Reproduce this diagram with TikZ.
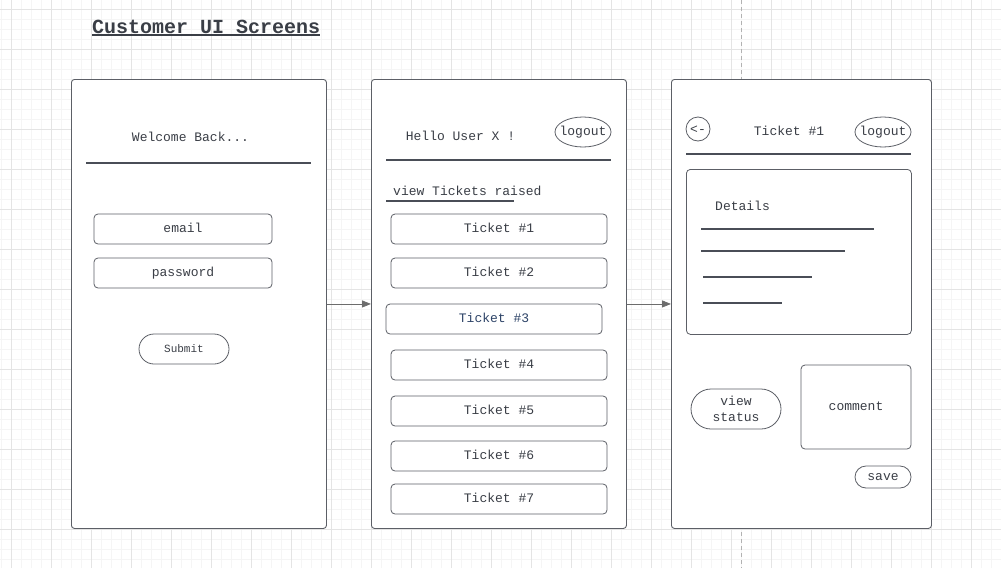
\documentclass[tikz,border=0pt]{standalone}
\usepackage{fontspec}
\setmainfont{Liberation Mono}
\usetikzlibrary{arrows.meta,shapes.geometric}

\definecolor{inkgray}{HTML}{4A4E57}
\definecolor{framegray}{HTML}{5C5F66}
\definecolor{textgray}{HTML}{3A3E46}
\definecolor{ticketblue}{HTML}{2E4468}
\definecolor{gridmajor}{HTML}{E4E4E4}
\definecolor{gridminor}{HTML}{F5F5F5}

\tikzset{
  mono/.style={font=\fontsize{13}{16}\selectfont, text=textgray},
  screen/.style={draw=framegray, fill=white, rounded corners=3pt, line width=0.9pt,
    minimum width=255pt, minimum height=449pt, inner sep=0pt, anchor=north west},
  field/.style={mono, draw=framegray, rounded corners=4pt, line width=0.8pt,
    minimum width=178pt, minimum height=30pt, inner sep=0pt, text height=9pt, text depth=2pt},
  ticket/.style={field, minimum width=216pt},
  pill/.style={mono, draw=framegray, line width=0.8pt, rounded corners=15pt,
    minimum width=90pt, minimum height=30pt, inner sep=0pt},
  oval/.style={mono, ellipse, draw=framegray, line width=0.8pt,
    minimum width=56pt, minimum height=30pt, inner xsep=-3.7pt, inner ysep=0pt},
  screentext/.style={mono, inner sep=0pt, text height=9pt, text depth=2pt},
  headrule/.style={draw=inkgray, line width=2pt},
  flow/.style={draw=gray!85!black, line width=0.8pt, -{Triangle[length=9pt,width=7pt]}},
}

\begin{document}
\begin{tikzpicture}[x=1pt, y=-1pt]
  \useasboundingbox (0,0) rectangle (1001,568);
  % background grid
  \foreach \gx in {1.7,11.7,...,1001} \draw[gridminor, line width=0.6pt] (\gx,0) -- (\gx,568);
  \foreach \gy in {-0.7,9.3,...,568} \draw[gridminor, line width=0.6pt] (0,\gy) -- (1001,\gy);
  \foreach \gx in {11.7,51.7,...,1001} \draw[gridmajor, line width=0.8pt] (\gx,0) -- (\gx,568);
  \foreach \gy in {9.3,49.3,...,568} \draw[gridmajor, line width=0.8pt] (0,\gy) -- (1001,\gy);
  \draw[draw=gray!60, line width=0.8pt, dash pattern=on 4pt off 3pt] (741.7,0) -- (741.7,568);

  % title
  \node[anchor=base west, inner sep=0pt, font=\fontsize{20}{24}\selectfont\bfseries, text=textgray]
    (title) at (92,33) {Customer UI Screens};
  \draw[draw=textgray, line width=2pt] ([yshift=-1.5pt]title.base west) -- ([yshift=-1.5pt]title.base east);

  % screens
  \node[screen] (login) at (71,79) {};
  \node[screen] (home) at (371,79) {};
  \node[screen, minimum width=260pt] (detail) at (671,79) {};

  % login screen
  \node[screentext] (welcome) at (190.5,138) {Welcome Back...};
  \draw[headrule] (86,163) -- (311,163);
  \node[field] (email) at (183,229) {email};
  \node[field] (password) at (183,273) {password};
  \node[pill, font=\fontsize{11}{13}\selectfont] (submit) at (184,349) {Submit};

  % home screen
  \node[screentext] (hello) at (460.5,137) {Hello User X !};
  \node[oval] (logoutA) at (583,132) {logout};
  \draw[headrule] (386,160) -- (611,160);
  \node[screentext, anchor=west] (raised) at (393,192) {view Tickets raised};
  \draw[headrule] (386,201) -- (514,201);
  \foreach \tn/\tx/\ty/\tc in {1/499/229/textgray, 2/499/273/textgray, 3/494/319/ticketblue,
      4/499/365/textgray, 5/499/411/textgray, 6/499/456/textgray, 7/499/499/textgray}
    \node[ticket, text=\tc] (ticket\tn) at (\tx,\ty) {Ticket \#\tn};

  % ticket screen
  \node[screentext, circle, draw=framegray, line width=0.8pt, minimum size=24pt, text height=8pt, text depth=0pt] (back) at (698,129) {<-};
  \node[screentext] (ticketname) at (789,132) {Ticket \#1};
  \node[oval] (logoutB) at (883,132) {logout};
  \draw[headrule] (686,154) -- (911,154);
  \node[field, minimum width=225pt, minimum height=165pt, anchor=north west] (details) at (686,169) {};
  \node[screentext] (detailslabel) at (742.5,207) {Details};
  \draw[headrule] (701,229) -- (874,229);
  \draw[headrule] (701,251) -- (845,251);
  \draw[headrule] (703,277) -- (812,277);
  \draw[headrule] (703,303) -- (782,303);
  \node[pill, minimum height=40pt, rounded corners=20pt, align=center] (status) at (736,409) {view\\status};
  \node[field, minimum width=110pt, minimum height=84pt] (comment) at (856,407) {comment};
  \node[pill, minimum width=56pt, minimum height=22pt, rounded corners=11pt] (save) at (883,477) {save};

  % navigation
  \draw[flow] (login.east) -- (home.west);
  \draw[flow] (home.east) -- (detail.west);
\end{tikzpicture}
\end{document}
